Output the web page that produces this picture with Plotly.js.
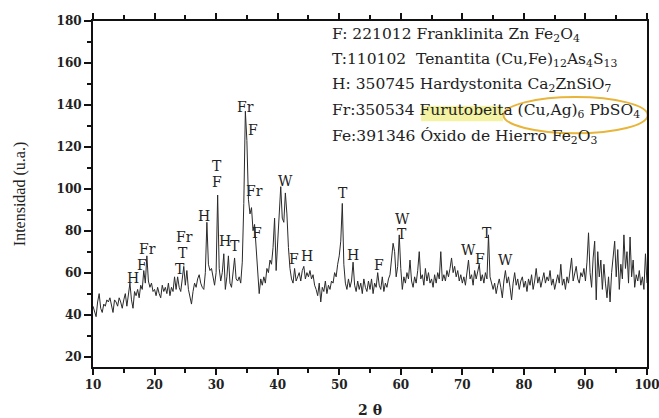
<!DOCTYPE html>
<html>
<head>
<meta charset="utf-8">
<script src="https://cdn.plot.ly/plotly-3.0.1.min.js"></script>
<style>html,body{margin:0;padding:0;background:#fff;}#chart{width:659px;height:418px;}</style>
</head>
<body>
<div id="chart"></div>
<script>
// 2-theta grid of the scan
const twoThetaStart = 10;
const twoThetaStep = 0.25;

// Intensity (u.a.), one row per 5 degrees
const intensity = [
  44,42,39,46,50,43,41,45,44,47,46,48,45,41,47,46,44,48,46,43,
  47,50,44,49,55,47,43,51,49,52,48,54,52,61,55,68,56,53,55,51,
  52,49,53,50,48,54,51,53,50,55,49,53,51,58,52,58,53,51,56,63,
  54,61,52,48,45,51,55,53,57,59,55,53,52,60,84,64,61,62,57,54,
  60,97,62,56,60,69,52,58,68,55,53,59,67,57,56,58,55,65,93,137,
  123,95,88,91,80,83,72,63,50,57,54,58,55,62,60,66,64,72,86,61,
  75,88,101,86,84,98,88,72,62,57,55,62,56,58,60,56,61,63,57,60,
  58,61,57,59,54,52,49,55,46,53,51,56,50,54,52,56,55,60,58,64,
  68,75,93,64,55,52,57,53,56,65,54,51,56,52,55,50,57,53,51,56,
  52,57,50,55,53,60,54,52,58,51,55,53,57,59,66,74,70,58,63,78,
  62,52,58,55,60,57,66,56,53,58,55,61,70,57,59,54,62,56,60,55,
  57,53,59,55,60,57,70,56,59,56,61,58,62,67,60,63,58,61,56,59,
  55,58,54,60,66,57,59,54,61,57,60,64,56,59,55,60,57,78,58,55,
  52,55,50,54,57,53,48,56,61,55,58,53,47,55,60,54,57,52,56,58,
  53,56,51,57,54,59,52,56,62,55,58,53,57,60,55,58,56,61,54,57,
  52,56,59,55,64,54,57,52,58,55,60,67,56,59,63,57,55,60,58,62,
  56,65,79,60,53,67,75,47,70,58,66,52,64,55,48,58,46,60,66,75,
  58,71,52,64,57,78,62,70,55,77,58,66,53,59,56,61,54,58,52,69,
  55
];

// Phase labels over the peaks
const peakLabels = ['H','F','Fr','T','T','Fr','H','F','T','H','T','Fr','F','Fr','F','W','F','H','T','H','F','T','W','W','F','T','W'];
const peakLabelX = [16.5,18.0,18.9,24.2,24.7,24.8,28.0,30.1,30.1,31.4,33.1,34.8,36.0,36.3,36.6,41.2,42.6,44.8,50.6,52.3,56.5,60.2,60.2,71.0,72.8,74.0,77.0];
const peakLabelY = [57.5,63.5,71.5,61.5,69.5,77,87,103,111,75,72.5,139,128,99,79,103.5,66.5,68,98,68.5,63.5,78.5,85.5,71,66.5,79,66];

// Phase list (reference cards)
const phaseList = [
  'F: 221012 Franklinita Zn Fe<sub>2</sub>O<sub>4</sub>',
  'T:110102  Tenantita (Cu,Fe)<sub>12</sub>As<sub>4</sub>S<sub>13</sub>',
  'H: 350745 Hardystonita Ca<sub>2</sub>ZnSiO<sub>7</sub>',
  'Fr:350534 Furutobeita (Cu,Ag)<sub>6</sub> PbSO<sub>4</sub>',
  'Fe:391346 Óxido de Hierro Fe<sub>2</sub>O<sub>3</sub>'
];

const twoTheta = intensity.map((_, i) => twoThetaStart + i * twoThetaStep);

const serif = 'DejaVu Serif, Liberation Serif, serif';

const annotations = [];
peakLabels.forEach((t, i) => {
  annotations.push({x: peakLabelX[i], y: peakLabelY[i], xref: 'x', yref: 'y', text: t, showarrow: false,
    font: {family: serif, size: 14, color: '#222'}, xanchor: 'center', yanchor: 'middle'});
});
const listY = [173.5, 161.5, 149.3, 137.0, 124.8];
phaseList.forEach((t, i) => {
  annotations.push({x: 48.5, y: listY[i], xref: 'x', yref: 'y', text: t, showarrow: false,
    font: {family: serif, size: 15.5, color: '#222'}, xanchor: 'left', yanchor: 'middle'});
});

const trace = {
  x: twoTheta, y: intensity, type: 'scatter', mode: 'lines',
  line: {color: '#2a2a2a', width: 1}, hoverinfo: 'skip'
};

const layout = {
  width: 659, height: 418,
  margin: {l: 93, r: 12, t: 21, b: 51},
  paper_bgcolor: '#fff', plot_bgcolor: '#fff',
  showlegend: false,
  xaxis: {
    range: [10, 100], tickvals: [10,20,30,40,50,60,70,80,90,100],
    ticks: 'outside', ticklen: 6, tickwidth: 2, tickcolor: '#111',
    minor: {dtick: 5, ticks: 'outside', ticklen: 4, tickwidth: 2, tickcolor: '#111'},
    showline: true, linewidth: 2, linecolor: '#111', mirror: 'ticks',
    showgrid: false, zeroline: false, ticklabeloverflow: 'allow',
    tickfont: {family: serif, size: 12, color: '#222', weight: 'bold'},
    title: {text: '2 θ', font: {family: serif, size: 14, color: '#222', weight: 'bold'}, standoff: 14}
  },
  yaxis: {
    range: [15, 180], tickvals: [20,40,60,80,100,120,140,160,180],
    ticks: 'outside', ticklen: 7, tickwidth: 2, tickcolor: '#111',
    minor: {dtick: 10, ticks: 'outside', ticklen: 4, tickwidth: 2, tickcolor: '#111'},
    showline: true, linewidth: 2, linecolor: '#111', mirror: true,
    showgrid: false, zeroline: false,
    tickfont: {family: serif, size: 12, color: '#222', weight: 'bold'},
    title: {text: 'Intensidad (u.a.)', font: {family: 'Liberation Serif, serif', size: 16, color: '#222'}, standoff: 27}
  },
  shapes: [
    {type: 'rect', xref: 'x', yref: 'y', x0: 63.3, x1: 76.6, y0: 132.2, y1: 139.6,
     fillcolor: 'rgba(240,240,140,0.8)', line: {width: 0}, layer: 'below'},
    {type: 'circle', xref: 'x', yref: 'y', x0: 76.7, x1: 100.1, y0: 126.5, y1: 143.7,
     line: {color: '#e8b53a', width: 2}, fillcolor: 'rgba(0,0,0,0)'}
  ],
  annotations: annotations
};

Plotly.newPlot('chart', [trace], layout, {displayModeBar: false, staticPlot: true});
</script>
</body>
</html>
